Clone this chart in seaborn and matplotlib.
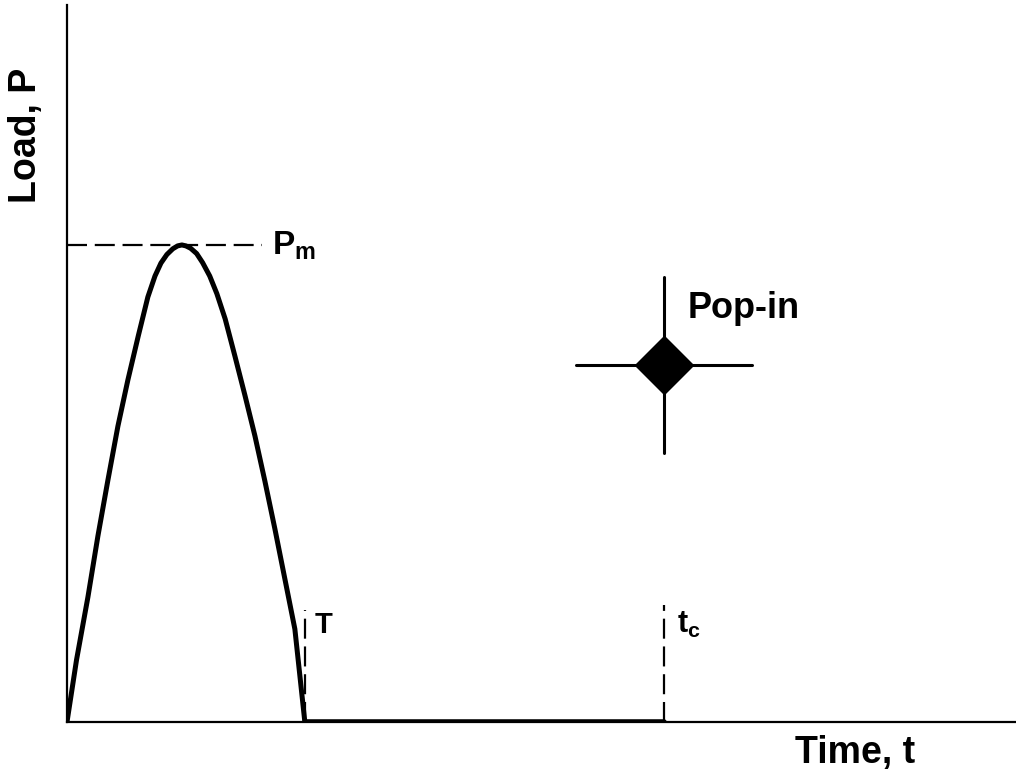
import numpy as np
import pandas as pd
import matplotlib
matplotlib.use("Agg")
import matplotlib.pyplot as plt
import seaborn as sns

# ---- data (time in units of T, load in units of P_m) ----
pulse_t = [0.0, 0.04, 0.088, 0.13, 0.172, 0.214, 0.256, 0.30, 0.340, 0.37, 0.395,
           0.42, 0.445, 0.465, 0.483, 0.50, 0.52, 0.545, 0.57, 0.60, 0.63, 0.665,
           0.706, 0.748, 0.790, 0.832, 0.874, 0.916, 0.958, 1.0]
pulse_p = [0.0, 0.13, 0.262, 0.39, 0.507, 0.62, 0.717, 0.81, 0.891, 0.935, 0.962,
           0.98, 0.992, 0.998, 1.0, 0.998, 0.993, 0.982, 0.963, 0.935, 0.898, 0.845,
           0.767, 0.685, 0.600, 0.505, 0.405, 0.30, 0.195, 0.0]
rest_t = [1.0, 2.51]
rest_p = [0.0, 0.0]
T_time = 1.0
tc_time = 2.51
Pm_load = 1.0
popin_t = 2.51
popin_p = 0.748

sns.set_theme(style="white")
plt.rcParams['font.family'] = ['Liberation Sans', 'DejaVu Sans']
plt.rcParams['font.weight'] = 'bold'
plt.rcParams['text.color'] = 'black'
plt.rcParams['mathtext.fontset'] = 'custom'
plt.rcParams['mathtext.rm'] = 'Liberation Sans:bold'
plt.rcParams['mathtext.it'] = 'Liberation Sans:bold'
plt.rcParams['mathtext.bf'] = 'Liberation Sans:bold'

fig = plt.figure(figsize=(10.16, 7.78), dpi=100)
W, H = 1016, 778
ax = fig.add_axes([67 / W, (H - 722) / H, (W - 67) / W, (722 - 5) / H])

pulse = pd.DataFrame({"t": pulse_t, "P": pulse_p})
rest = pd.DataFrame({"t": rest_t, "P": rest_p})

sns.lineplot(data=pulse, x="t", y="P", ax=ax, color="black", lw=3.6,
             sort=False, estimator=None, solid_joinstyle="round",
             solid_capstyle="round", zorder=3)
sns.lineplot(data=rest, x="t", y="P", ax=ax, color="black", lw=4.0,
             sort=False, estimator=None, zorder=3)
ax.set_xlabel("")
ax.set_ylabel("")

ax.set_xlim(0, 3.99)
ax.set_ylim(0, 1.503)

dash_kw = dict(color="black", lw=1.6, dashes=(9, 3.5))
ax.plot([0, 0.82], [Pm_load, Pm_load], **dash_kw)
ax.plot([T_time, T_time], [0, 0.235], **dash_kw)
ax.plot([tc_time, tc_time], [0, 0.245], **dash_kw)

# pop-in crosshair with diamond
ax.plot([popin_t - 0.37, popin_t + 0.37], [popin_p, popin_p], color="black", lw=2.2)
ax.plot([popin_t, popin_t], [popin_p - 0.184, popin_p + 0.184], color="black", lw=2.2)
ax.plot([popin_t], [popin_p], marker="D", ms=30, color="black", zorder=4)

ax.text(0.86, 0.979, r"$\mathregular{P_m}$", fontsize=24, fontweight="bold",
        ha="left", va="baseline", color="black")
ax.text(1.04, 0.187, "T", fontsize=21, fontweight="bold", ha="left", va="baseline",
        color="black")
ax.text(2.565, 0.187, r"$\mathregular{t_c}$", fontsize=22, fontweight="bold",
        ha="left", va="baseline", color="black")
ax.text(2.61, 0.847, "Pop-in", fontsize=26, fontweight="bold", ha="left",
        va="baseline", color="black")

fig.text(855 / W, 1 - 753 / H, "Time, t", fontsize=27, fontweight="bold",
         ha="center", va="center", color="black")
fig.text(26 / W, 1 - 135 / H, "Load, P", fontsize=27, fontweight="bold",
         ha="center", va="center", rotation=90, color="black")

ax.set_xticks([])
ax.set_yticks([])
for s in ["top", "right"]:
    ax.spines[s].set_visible(False)
for s in ["left", "bottom"]:
    ax.spines[s].set_color("black")
    ax.spines[s].set_linewidth(1.6)

fig.savefig("out.png", dpi=100)
